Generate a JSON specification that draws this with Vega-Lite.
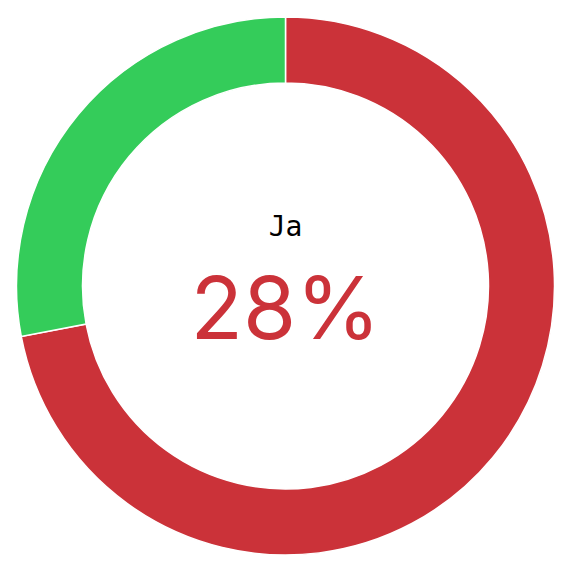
{
  "$schema": "https://vega.github.io/schema/vega-lite/v6.json",
  "width": 571,
  "height": 572,
  "autosize": {"type": "fit", "contains": "padding"},
  "padding": 0,
  "background": "white",
  "view": {"stroke": null},
  "data": {
    "values": [
      {"answer": "Nein", "share": 0.72, "rank": 1},
      {"answer": "Ja", "share": 0.28, "rank": 2}
    ]
  },
  "layer": [
    {
      "mark": {"type": "arc", "outerRadius": 269, "innerRadius": 203, "stroke": "white", "strokeWidth": 1.5},
      "encoding": {
        "theta": {"field": "share", "type": "quantitative", "stack": true},
        "order": {"field": "rank", "type": "ordinal"},
        "color": {
          "field": "answer",
          "type": "nominal",
          "scale": {"domain": ["Nein", "Ja"], "range": ["#CB3239", "#34CC5A"]},
          "legend": null
        }
      }
    },
    {
      "transform": [{"filter": "datum.answer == 'Ja'"}],
      "mark": {"type": "text", "font": "DejaVu Sans Mono", "fontSize": 28, "color": "black", "baseline": "alphabetic", "align": "center", "dy": -50},
      "encoding": {"text": {"field": "answer"}}
    },
    {
      "transform": [{"filter": "datum.answer == 'Ja'"}],
      "mark": {"type": "text", "font": "Inter", "fontWeight": 400, "fontSize": 86, "color": "#CB3239", "baseline": "alphabetic", "align": "center", "dy": 53},
      "encoding": {"text": {"field": "share", "type": "quantitative", "format": ".0%"}}
    }
  ]
}
